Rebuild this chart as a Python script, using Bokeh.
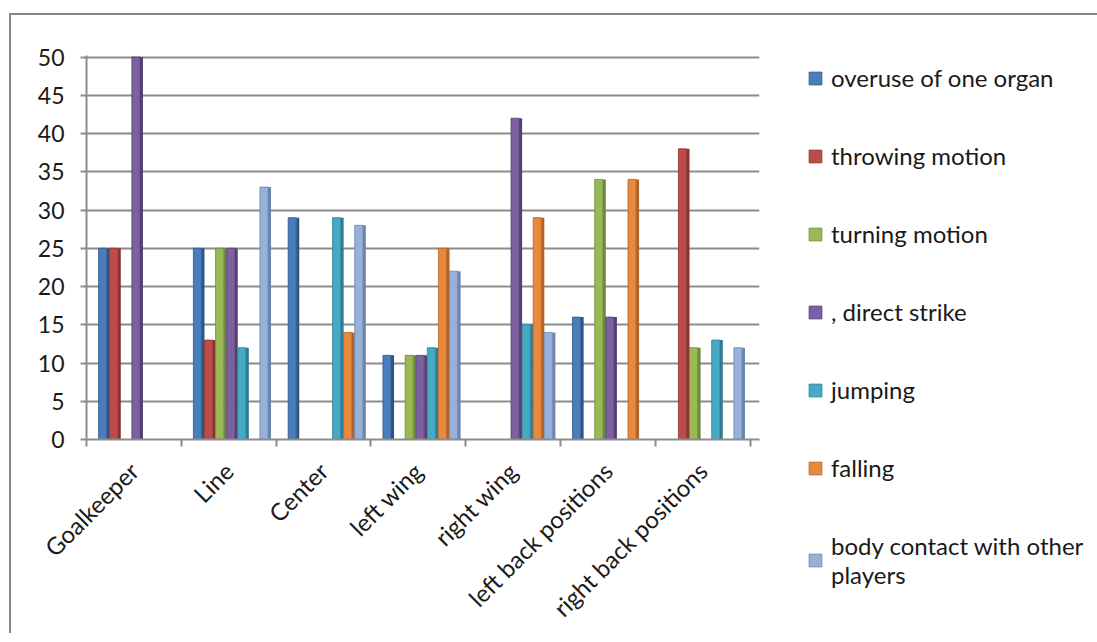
from math import pi
from bokeh.plotting import figure
from bokeh.models import Legend, LegendItem, FixedTicker, Range1d
from bokeh.embed import file_html
from bokeh.resources import INLINE

categories = ["Goalkeeper", "Line", "Center", "left wing", "right wing",
              "left back positions", "right back positions"]
series_names = ["overuse of one organ", "throwing motion", "turning motion",
                ", direct strike", "jumping", "falling",
                "body contact with other\nplayers"]
overuse = [25, 25, 29, 11, 0, 16, 0]
throwing = [25, 13, 0, 0, 0, 0, 38]
turning = [0, 25, 0, 11, 0, 34, 12]
direct_strike = [50, 25, 0, 11, 42, 16, 0]
jumping = [0, 12, 29, 12, 15, 0, 13]
falling = [0, 0, 14, 25, 29, 34, 0]
body_contact = [0, 33, 28, 22, 14, 0, 12]
series_values = [overuse, throwing, turning, direct_strike, jumping, falling, body_contact]

front_colors = ["#4A7EBB", "#BE4B48", "#98B954", "#7D60A0", "#46AAC5", "#E8893C", "#97B1D9"]
side_colors = ["#2C5687", "#8C3331", "#6F8A3B", "#563F73", "#2D7D93", "#B0632A", "#6C87AF"]

FONT = "Lato"
GRID = "#8C8C8C"
TEXT = "#1a1a1a"

p = figure(width=1508, height=620, output_backend="svg", toolbar_location=None,
           x_range=Range1d(0, 7.1), y_range=Range1d(0, 50.2),
           min_border_left=75, min_border_right=0, min_border_top=40,
           min_border_bottom=189)
p.outline_line_color = None

u = 1.0 / 94.0
idx = list(range(len(categories)))
items = []
for j, (name, vals) in enumerate(zip(series_names, series_values)):
    xf = [i + (12 + 11 * j + 4) * u for i in idx]
    xs = [i + (12 + 11 * j + 9.5) * u for i in idx]
    p.vbar(x=xs, top=vals, bottom=0, width=3 * u, fill_color=side_colors[j],
           line_color=None)
    front = p.vbar(x=xf, top=vals, bottom=0, width=8 * u, fill_color=front_colors[j],
                   line_color=side_colors[j], line_width=0.8)
    items.append(LegendItem(label=name, renderers=[front]))

xa = p.xaxis[0]
xa.ticker = FixedTicker(ticks=[i + 0.5 for i in idx], minor_ticks=list(range(len(categories) + 1)))
xa.major_label_overrides = {i + 0.5: c for i, c in enumerate(categories)}
xa.major_label_orientation = pi / 4
xa.major_tick_line_color = None
xa.minor_tick_out = 7
xa.minor_tick_in = 0
xa.minor_tick_line_color = GRID
xa.minor_tick_line_width = 2
xa.axis_line_color = GRID
xa.axis_line_width = 2
xa.major_label_text_font = FONT
xa.major_label_text_font_size = "24px"
xa.major_label_text_color = TEXT
xa.major_label_standoff = 20

ya = p.yaxis[0]
ya.ticker = FixedTicker(ticks=list(range(0, 51, 5)))
ya.axis_line_color = GRID
ya.axis_line_width = 2
ya.major_tick_line_color = GRID
ya.major_tick_line_width = 2
ya.major_tick_out = 6
ya.major_tick_in = 0
ya.minor_tick_line_color = None
ya.major_label_text_font = FONT
ya.major_label_text_font_size = "23px"
ya.major_label_text_color = TEXT
ya.major_label_standoff = 16

p.xgrid.grid_line_color = None
p.ygrid.grid_line_color = GRID
p.ygrid.grid_line_width = 2
p.ygrid.ticker = FixedTicker(ticks=list(range(0, 51, 5)))

legend = Legend(items=items, location=(48, -150), orientation="vertical",
                margin=0, padding=0, spacing=49, glyph_width=16, glyph_height=16,
                label_standoff=8, label_text_font=FONT, label_text_font_size="24px",
                label_text_color=TEXT, border_line_color=None,
                background_fill_alpha=0)
p.add_layout(legend, "right")

p.styles = {"margin-left": "9px", "margin-top": "13px",
            "border-top": "2px solid #868686", "border-left": "2px solid #868686"}

open("out.html", "w").write(file_html(p, INLINE))
